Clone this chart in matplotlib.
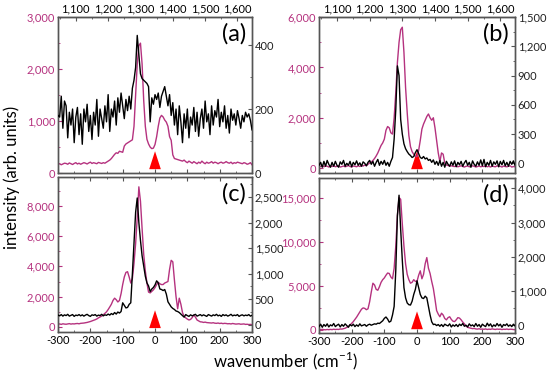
import numpy as np
import matplotlib
matplotlib.use("Agg")
import matplotlib.pyplot as plt
from matplotlib.ticker import FuncFormatter, MultipleLocator
from matplotlib.patches import Polygon
import matplotlib.transforms as mtransforms

plt.rcParams['font.family'] = ['Lato', 'DejaVu Sans']
plt.rcParams['mathtext.fontset'] = 'custom'
plt.rcParams['mathtext.rm'] = 'Lato'
plt.rcParams['axes.unicode_minus'] = False

# shared wavenumber grid, -300 .. 300 step 5
wn = np.arange(-300, 305, 5)

# ---- panel (a): magenta on left axis, black on right axis
a_mag = [170, 180, 160, 175, 190, 185, 170, 195, 180, 165, 185, 200, 175, 190, 170, 185,
         200, 190, 175, 195, 210, 185, 200, 190, 180, 205, 195, 185, 200, 190, 210, 230,
         250, 280, 320, 360, 390, 380, 420, 410,
         400, 520, 560, 580, 600, 620, 640, 900,
         1500, 2100, 2450, 2500, 2100, 1400, 900, 650, 560, 500,
         470, 480, 550, 700, 900, 1060, 1110, 1080, 1020, 980,
         900, 700, 630, 350, 280, 270,
         260, 250, 240, 230, 250, 220, 200, 230, 210, 190,
         220, 200, 180, 210, 190, 230, 200, 180, 210, 190,
         200, 220, 190, 210, 200, 180, 200, 210, 190, 200,
         220, 200, 190, 210, 180, 200, 190, 210, 200, 190,
         180, 200, 190, 170, 180, 200, 160]
a_blk = [180, 175, 240, 140, 225, 210, 110, 190, 150, 200, 95, 175, 205, 120, 185, 90,
         200, 160, 215, 130, 180, 105, 190, 150, 230, 115, 200, 170, 140, 210, 160, 245,
         130, 200, 175, 225, 150, 235, 190, 250,
         210, 170, 230, 195, 240, 200, 265, 290, 330,
         430, 370, 310, 295, 290, 285, 280, 270, 160, 235, 215, 245, 230, 250, 205, 240,
         255, 270, 240, 210, 245, 180, 220, 150, 200,
         120, 210, 160, 95, 185, 140, 200, 110, 175, 150,
         205, 130, 190, 115, 170, 200, 140, 225, 160, 185,
         120, 210, 150, 195, 175, 230, 145, 190, 160, 210,
         140, 180, 125, 200, 165, 185, 150, 195, 170, 140,
         180, 160, 190, 175, 185, 165, 135]

# ---- panel (b)
b_mag = [80, 60, 100, 50, 90, 70, 40, 80, 60, 100, 50, 70, 90, 40, 60, 80,
         50, 70, 100, 60, 40, 80, 70, 50, 90, 60, 100, 80, 120, 90, 150, 200,
         240, 300, 380, 480, 600, 750, 900, 1000,
         1150, 1500, 1650, 1600, 1400, 1350, 2000, 3000,
         4200, 5000, 5500, 5600, 4600, 3200, 2200, 1300, 850, 650,
         550, 470, 450, 700, 1100, 1550, 1750, 1900, 2050, 2150,
         2000, 1900, 2000, 1600, 1100, 600,
         250, 600, 550, 200, 120, 100, 80, 90, 70, 60,
         80, 50, 70, 90, 60, 40, 70, 80, 50, 60,
         90, 70, 40, 60, 80, 50, 70, 60, 90, 50,
         70, 40, 80, 60, 50, 90, 60, 70, 40, 80,
         60, 50, 70, 90, 40, 60, 50]
b_blk = [-20, 10, -40, 20, -30, 30, -10, -40, 10, -30, 20, -20, -40, 15, -10, 30,
         -30, 0, -20, 20, -35, 10, -15, 25, -20, 5, -30, 15, 0, -25, 10, 30,
         -10, 20, -30, 10, 40, -20, 20, -10,
         30, -20, 10, -30, 20, 60, 250, 550,
         1000, 900, 450, 300, 200, 150, 120, 95, 80, 60,
         70, 110, 140, 100, 60, 50, 70, 45, 55, 30,
         40, 10, 35, -10, 20, -20,
         30, -30, 10, -40, 20, -10, -30, 15, -20, 25,
         -35, 10, -15, 20, -30, 5, 30, -20, 10, -40,
         25, -10, -30, 15, -20, 35, -25, 40, -35, 10,
         -20, 30, -30, 15, -10, 25, -35, 20, -15, 30,
         -25, 10, -30, 20, -10, 25, -20]

# ---- panel (c)
c_mag = [180, 200, 170, 210, 190, 180, 200, 220, 190, 210, 200, 220, 230, 210, 240, 250,
         260, 280, 300, 330, 360, 400, 440, 480, 530, 600, 660, 720, 800, 900, 1000, 1150,
         1320, 1500, 1750, 1900, 1800, 1650, 1750, 2200,
         2800, 3300, 3600, 3650, 3300, 2900, 3200, 4200,
         5500, 7200, 9250, 8300, 6500, 4800, 3700, 2900, 2300, 2250,
         2350, 2450, 2600, 2800, 2950, 2850, 2800, 2800, 2900, 2950,
         3000, 3800, 4400, 4300, 3100, 2000,
         1200, 1900, 1500, 950, 700, 600, 520, 460, 500, 620,
         790, 650, 460, 400, 340, 330, 300, 320, 290, 280,
         270, 260, 280, 250, 240, 260, 230, 250, 220, 240,
         230, 210, 220, 200, 230, 210, 190, 200, 210, 180,
         190, 200, 170, 180, 160, 170, 150]
c_blk = [190, 175, 200, 170, 195, 180, 205, 170, 185, 200, 165, 190, 180, 200, 175, 195,
         170, 190, 205, 180, 165, 195, 185, 200, 170, 190, 180, 205, 175, 195, 185, 210,
         190, 220, 200, 240, 210, 250, 230, 260,
         430, 380, 330, 340, 400, 430, 1000, 1600,
         2200, 2480, 2000, 1650, 1350, 1150, 950, 820, 760, 650,
         700, 730, 780, 860, 820, 700, 690, 670, 690, 600,
         450, 400, 350, 320, 300, 270,
         260, 240, 210, 180, 150, 200, 180, 165, 195, 175,
         190, 205, 170, 185, 200, 175, 195, 180, 165, 200,
         185, 170, 195, 180, 205, 175, 190, 165, 200, 180,
         195, 170, 185, 205, 175, 190, 180, 200, 165, 185,
         195, 175, 190, 180, 200, 170, 185]

# ---- panel (d)
d_mag = [50, 30, 80, 40, 20, 60, 30, 70, 40, 90, 50, 80, 60, 120, 100, 150,
         200, 300, 420, 570, 750, 950, 1200, 1450, 1750, 2050, 2350, 2500, 2450, 2300, 2400, 3200,
         4300, 5300, 5100, 4600, 4500, 4900, 5400, 5700,
         5900, 6200, 6450, 6400, 6000, 5800, 7000, 9500,
         13000, 15000, 14800, 12000, 9500, 7500, 6300, 5700, 5300, 5400,
         5700, 5500, 5500, 6200, 6700, 5800, 6300, 7500, 8200, 7000,
         6400, 5500, 4700, 3500, 2200, 1800,
         1500, 1900, 1700, 1300, 1150, 1400, 1500, 1200, 1000, 950,
         1150, 1400, 1350, 1150, 900, 700, 450, 300, 250, 200,
         150, 180, 120, 100, 140, 90, 110, 80, 120, 60,
         100, 70, 130, 90, 60, 110, 80, 100, 50, 90,
         70, 110, 60, 90, 80, 50, 40]
d_blk = [-40, 30, -60, 20, -30, 40, -50, 10, -20, 50, -40, 0, 30, -50, 20, -30,
         40, -10, -60, 20, -20, 30, -40, 10, -30, 40, -20, 0, 20, -30, 10, 30,
         0, 20, 40, 30, 60, 50, 90, 130,
         200, 240, 180, 90, 120, 300, 550, 1600,
         3200, 3800, 2800, 1900, 1100, 800, 650, 600, 590, 700,
         900, 1050, 1300, 1100, 900, 800, 780, 850, 800, 550,
         300, 100, 20, 30, -10, 20,
         -30, 20, -40, 30, 0, -20, 40, -50, 10, -30,
         20, -40, 30, -10, 50, -30, 0, -50, 40, -20,
         10, -40, 50, -30, 20, -60, 30, -10, -40, 60,
         -20, 40, -50, 10, -30, 50, -20, 30, -60, 20,
         -10, 40, -30, 10, -40, 30, -20]

labels = ['(a)', '(b)', '(c)', '(d)']
mags = [a_mag, b_mag, c_mag, d_mag]
blks = [a_blk, b_blk, c_blk, d_blk]
left_lims = [(0, 3000), (-200, 6000), (-330, 9900), (-350, 17200)]
right_lims = [(0, 487), (-100, 1500), (-140, 2890), (-230, 4300)]
left_major = [1000, 2000, 2000, 5000]
right_major = [200, 300, 500, 1000]
top_ticks = [1100, 1200, 1300, 1400, 1500, 1600]
x_ticks = [-300, -200, -100, 0, 100, 200, 300]

MAG = '#b5327f'
EDGE = '#555555'
comma = FuncFormatter(lambda v, p: f"{v:,.0f}")

fig = plt.figure(figsize=(5.5, 3.73), dpi=100)
rects = [[0.1055, 0.536, 0.3527, 0.418],
         [0.580, 0.536, 0.3564, 0.418],
         [0.1055, 0.110, 0.3527, 0.4155],
         [0.580, 0.107, 0.3564, 0.4155]]

for i in range(4):
    ax = fig.add_axes(rects[i])
    ax2 = ax.twinx()
    ax.plot(wn, mags[i], color=MAG, lw=1.0, zorder=2)
    ax2.plot(wn, blks[i], color='black', lw=1.0, zorder=3)
    ax.set_xlim(-300, 300)
    ax.set_ylim(*left_lims[i])
    ax2.set_ylim(*right_lims[i])

    # red excitation marker at 0
    trans = mtransforms.blended_transform_factory(ax.transData, ax.transAxes)
    tri = Polygon([[-18, 0.025], [18, 0.025], [0, 0.14]], closed=True,
                  facecolor='#ff0000', edgecolor='none', transform=trans, zorder=1.5)
    ax.add_patch(tri)

    ax.yaxis.set_major_locator(MultipleLocator(left_major[i]))
    ax.yaxis.set_minor_locator(MultipleLocator(left_major[i] / 2))
    ax.yaxis.set_major_formatter(comma)
    ax2.yaxis.set_major_locator(MultipleLocator(right_major[i]))
    ax2.yaxis.set_minor_locator(MultipleLocator(right_major[i] / 2))
    ax2.yaxis.set_major_formatter(comma)
    ax.set_xticks(x_ticks)
    ax.xaxis.set_minor_locator(MultipleLocator(50))

    ax.tick_params(axis='y', which='both', direction='in', colors=MAG, labelsize=8, pad=2)
    ax.tick_params(axis='y', which='major', length=3)
    ax.tick_params(axis='y', which='minor', length=1.5)
    ax2.tick_params(axis='y', which='both', direction='in', color=EDGE, labelcolor='#222222',
                    labelsize=8, pad=2)
    ax2.tick_params(axis='y', which='major', length=3)
    ax2.tick_params(axis='y', which='minor', length=1.5)
    ax.tick_params(axis='x', which='both', direction='in', color=EDGE, labelsize=8, pad=2)
    ax.tick_params(axis='x', which='major', length=3)
    ax.tick_params(axis='x', which='minor', length=1.5)

    if i < 2:
        ax.tick_params(axis='x', labelbottom=False)
        sec = ax.secondary_xaxis('top', functions=(lambda x: x + 1345, lambda x: x - 1345))
        sec.set_xticks(top_ticks)
        sec.xaxis.set_major_formatter(comma)
        sec.xaxis.set_minor_locator(MultipleLocator(50))
        sec.tick_params(which='both', direction='in', color=EDGE, labelsize=8, pad=2)
        sec.tick_params(which='major', length=3)
        sec.tick_params(which='minor', length=1.5)
        sec.spines['top'].set_color(EDGE)
    else:
        ax.tick_params(axis='x', which='both', top=True)

    for a in (ax, ax2):
        for s in a.spines.values():
            s.set_color(EDGE)
            s.set_linewidth(1.0)

    ax.text(0.97, 0.96, labels[i], transform=ax.transAxes, ha='right', va='top',
            fontsize=17, zorder=5)

fig.text(0.022, 0.525, 'intensity (arb. units)', rotation=90, ha='center', va='center',
         fontsize=12)
fig.text(0.52, 0.032, 'wavenumber (cm$^{-1}$)', ha='center', va='center', fontsize=12)

fig.savefig('out.png', dpi=100)
